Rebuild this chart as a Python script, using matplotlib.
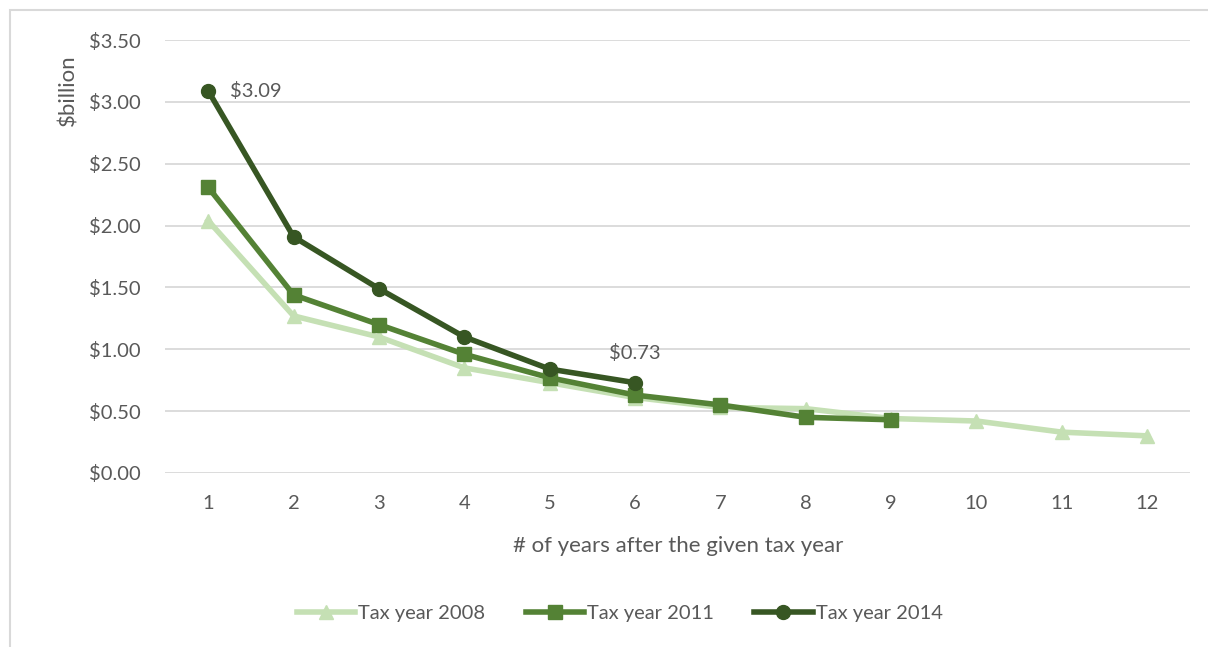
import matplotlib
matplotlib.use("Agg")
import matplotlib.pyplot as plt
from matplotlib.patches import Rectangle

plt.rcParams['font.family'] = ['Lato', 'DejaVu Sans']

years = list(range(1, 13))
tax_2008 = [2.04, 1.27, 1.10, 0.85, 0.73, 0.61, 0.53, 0.52, 0.44, 0.42, 0.33, 0.30]
tax_2011 = [2.31, 1.44, 1.20, 0.96, 0.77, 0.63, 0.55, 0.45, 0.43]
tax_2014 = [3.09, 1.91, 1.49, 1.10, 0.84, 0.73]

text_color = '#595959'

fig = plt.figure(figsize=(12.08, 6.47), dpi=100)
ax = fig.add_axes([0.137, 0.269, 0.848, 0.669])

ax.plot(years[:len(tax_2008)], tax_2008, color='#c5e0b4', lw=4, marker='^', ms=10,
        label='Tax year 2008', zorder=2)
ax.plot(years[:len(tax_2011)], tax_2011, color='#548235', lw=4, marker='s', ms=10,
        label='Tax year 2011', zorder=3)
ax.plot(years[:len(tax_2014)], tax_2014, color='#375623', lw=4, marker='o', ms=10,
        label='Tax year 2014', zorder=4)

# data labels
ax.annotate(f'${tax_2014[0]:.2f}', (1, tax_2014[0]), xytext=(16, 0), textcoords='offset points',
            va='center', ha='left', fontsize=14.5, color=text_color)
ax.annotate(f'${tax_2014[-1]:.2f}', (6, tax_2014[-1]), xytext=(0, 15), textcoords='offset points',
            va='bottom', ha='center', fontsize=14.5, color=text_color)

ax.set_xlim(0.5, 12.5)
ax.set_ylim(0, 3.5)
ax.set_xticks(years)
ax.set_yticks([i * 0.5 for i in range(8)])
ax.set_yticklabels([f'${i * 0.5:.2f}' for i in range(8)])
ax.tick_params(length=0, labelsize=14.5, colors=text_color)
ax.tick_params(axis='y', pad=18)
ax.tick_params(axis='x', pad=16)
ax.grid(axis='y', color='#d9d9d9', lw=1.3)
ax.set_axisbelow(True)
for s in ax.spines.values():
    s.set_visible(False)

ax.set_xlabel('# of years after the given tax year', fontsize=16, color=text_color, labelpad=17)
ax.set_ylabel('$billion', fontsize=16, color=text_color)
ax.yaxis.set_label_coords(-0.085, 0.885)

fig.legend(loc='center', bbox_to_anchor=(0.513, 0.052), ncol=3, frameon=False, fontsize=14.5,
           labelcolor=text_color, handlelength=2.9, handletextpad=0.15, columnspacing=2.0)

fig.patches.append(Rectangle((0.008, -0.02), 1.0, 1.004, transform=fig.transFigure,
                             fill=False, edgecolor='#d9d9d9', lw=1.5))

fig.savefig('out.png', dpi=100)
